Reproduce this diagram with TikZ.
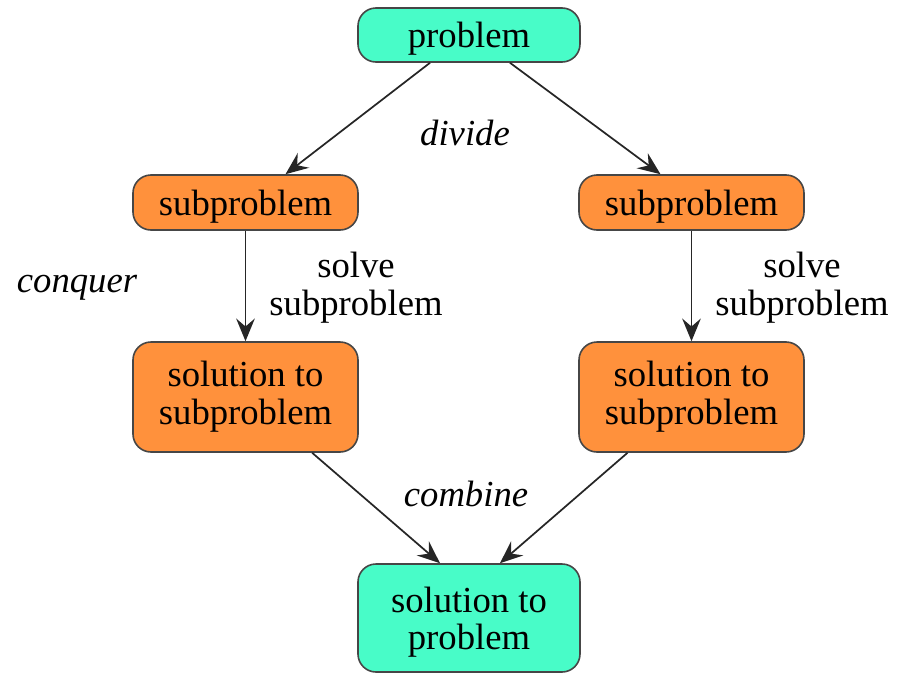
\documentclass[tikz,border=0pt]{standalone}
\usepackage{fontspec}
\setmainfont{Liberation Serif}
\usetikzlibrary{arrows.meta}
\definecolor{teal1}{RGB}{72,252,200}
\definecolor{orange1}{RGB}{255,145,60}
\definecolor{edge1}{RGB}{70,70,70}
\begin{document}
\begin{tikzpicture}[x=0.75pt,y=-0.75pt,
  box/.style={draw=edge1,line width=1.2pt,rounded corners=13.5pt,align=center,
    inner sep=0pt,font=\fontsize{27.5}{28.5}\selectfont},
  tealbox/.style={box,fill=teal1},
  orbox/.style={box,fill=orange1},
  oneline/.style={text height=19pt,text depth=0pt},
  lbl/.style={align=center,font=\fontsize{27.5}{28.5}\selectfont},
  ilbl/.style={lbl,font=\fontsize{27.5}{28.5}\selectfont\itshape},
  arr/.style={draw=black!85,line width=1.3pt,-{Stealth[length=17pt,width=14pt,inset=6pt]}}]
\useasboundingbox (0,0) rectangle (897,675);
\node[tealbox,oneline,minimum width=166.5pt,minimum height=40.5pt] (p) at (469,35) {problem};
\node[orbox,oneline,minimum width=168.75pt,minimum height=41.25pt] (sl) at (245.5,202.5) {subproblem};
\node[orbox,oneline,minimum width=168.75pt,minimum height=41.25pt] (sr) at (691.5,202.5) {subproblem};
\node[orbox,minimum width=168.75pt,minimum height=82.5pt] (tl) at (245.5,397) {solution to\\subproblem};
\node[orbox,minimum width=168.75pt,minimum height=82.5pt] (tr) at (691.5,397) {solution to\\subproblem};
\node[tealbox,align=none,minimum width=166.5pt,minimum height=81pt] (pp) at (469,618)
  {\raisebox{-4pt}[\height][\depth]{\begin{tabular}{@{}c@{}}solution to\\[-0.3pt]problem\end{tabular}}};
\node[ilbl] (dv) at (465,133) {divide};
\node[ilbl] (cq) at (77,288) {conquer};
\node[lbl] (s1) at (356,288) {solve\\subproblem};
\node[lbl] (s2) at (802,288) {solve\\subproblem};
\node[ilbl] (cb) at (466,494) {combine};
\draw[arr] ([xshift=-29.25pt]p.south) -- ([xshift=30pt]sl.north);
\draw[arr] ([xshift=30.75pt]p.south) -- ([xshift=-23.25pt]sr.north);
\draw[arr] (sl.south) -- (tl.north);
\draw[arr] (sr.south) -- (tr.north);
\draw[arr] ([xshift=50pt]tl.south) -- ([xshift=-21.75pt]pp.north);
\draw[arr] ([xshift=-48pt]tr.south) -- ([xshift=23.25pt]pp.north);
\end{tikzpicture}
\end{document}
